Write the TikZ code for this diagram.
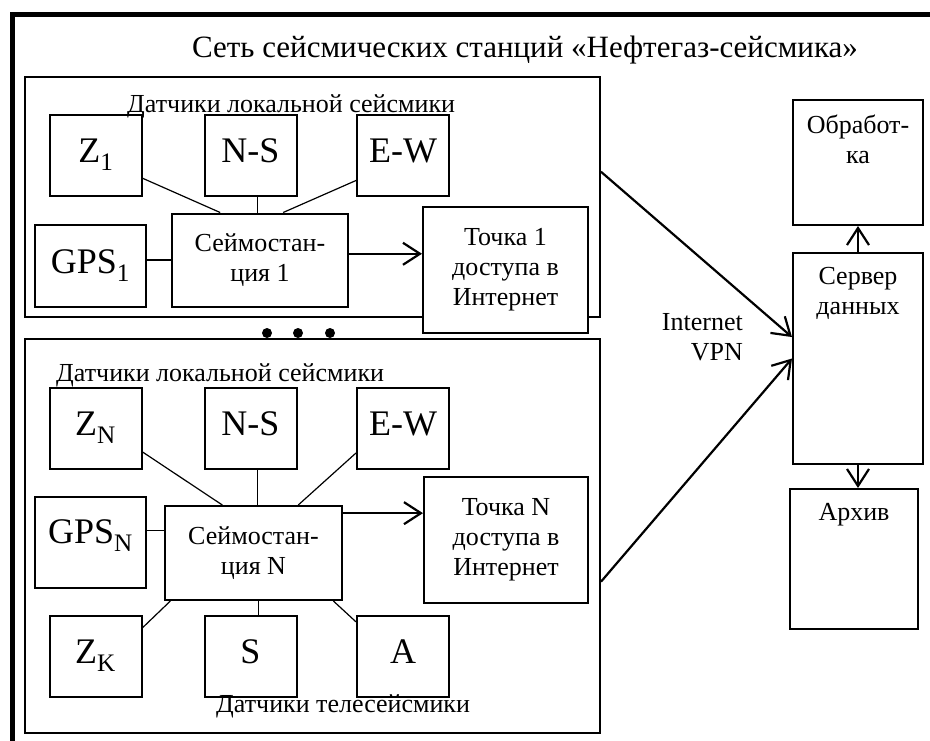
\documentclass[tikz,border=0pt]{standalone}
\usepackage{fontspec}
\setmainfont{Liberation Serif}
\usetikzlibrary{arrows.meta}

\begin{document}
\begin{tikzpicture}[x=1pt,y=-1pt,
  every node/.style={font=\fontsize{26}{30}\selectfont},
  sens/.style={draw,line width=2pt,minimum width=92pt,minimum height=81pt,inner sep=0pt,
    font=\fontsize{36}{42}\selectfont,text depth=9pt},
  seis/.style={draw,line width=2pt,minimum width=176pt,minimum height=93pt,align=center,inner sep=0pt},
  acc/.style={draw,fill=white,line width=2pt,minimum width=165pt,minimum height=126pt,align=center,inner sep=0pt},
  grp/.style={draw,line width=2pt,minimum width=575pt,inner sep=0pt},
  rbox/.style={draw,line width=2pt,minimum width=130pt,inner sep=0pt},
  lab/.style={anchor=north,align=center,yshift=-12pt},
  txt/.style={inner sep=0pt},
  wire/.style={line width=1.2pt},
  arr/.style={line width=2.2pt,-{Straight Barb[length=17pt,width=22pt]}}]
  \useasboundingbox (0,0) rectangle (930,740);
  \begin{scope}
    \clip (0,0) rectangle (930,740);
    \draw[line width=5pt] (12,14) rectangle (960,770);
  \end{scope}

  \node[anchor=base,font=\fontsize{31}{36}\selectfont] (title) at (525,57) {Сеть сейсмических станций «Нефтегаз-сейсмика»};

  \node[grp,minimum height=240pt] (st1) at (312.5,197) {};
  \node[grp,minimum height=394pt] (stN) at (312.5,536) {};
  \foreach \x in {267,298,330}
    \fill (\x,333) circle (5pt);

  \node[txt,anchor=base west] (loc1) at (127,112) {Датчики локальной сейсмики};
  \node[sens] (z1) at (96,155.5) {Z\textsubscript{1}};
  \node[sens] (ns1) at (250.5,155.5) {N-S};
  \node[sens] (ew1) at (403,155.5) {E-W};
  \node[sens,minimum width=111pt,minimum height=82pt] (gps1) at (90.5,266) {GPS\textsubscript{1}};
  \node[seis] (seis1) at (260,260) {Сеймостан-\\ция 1};
  \node[acc] (acc1) at (505.5,270) {Точка 1\\доступа в\\Интернет};

  \node[txt,anchor=base west] (locN) at (56,381) {Датчики локальной сейсмики};
  \node[sens] (zN) at (95.5,428) {Z\textsubscript{N}};
  \node[sens] (nsN) at (250.5,428) {N-S};
  \node[sens] (ewN) at (403,428) {E-W};
  \node[sens,minimum width=111pt,minimum height=91pt,text depth=22pt] (gpsN) at (90.5,542.5) {GPS\textsubscript{N}};
  \node[seis,minimum width=177pt,minimum height=94pt] (seisN) at (253.5,553) {Сеймостан-\\ция N};
  \node[acc,minimum width=164pt] (accN) at (506,540) {Точка N\\доступа в\\Интернет};
  \node[sens] (zK) at (95.5,656) {Z\textsubscript{K}};
  \node[sens] (sK) at (250.5,656) {S};
  \node[sens] (aK) at (403,656) {A};
  \node[txt,anchor=base west] (tele) at (216,712) {Датчики телесейсмики};

  \node[rbox,minimum height=125pt,label={[lab]north:Обработ-\\ка}] (obr) at (858,162.5) {};
  \node[rbox,minimum height=211pt,label={[lab]north:Сервер\\данных}] (srv) at (858,358.5) {};
  \node[rbox,minimum width=128pt,minimum height=140pt,label={[lab]north:Архив}] (arch) at (854,559) {};
  \node[txt,anchor=north east,align=right] (vpn) at (743,313) {Internet\\VPN};

  \foreach \from/\to in {z1.-26/seis1.130,ew1.208/seis1.64,zN.-27/seisN.123,ewN.208/seisN.47,zK.31/seisN.210,aK.144/seisN.-31}
    \draw[wire] (\from) -- (\to);
  \draw[wire] (ns1.-80) -- (ns1.-80 |- seis1.north);
  \draw[wire] (nsN.-80) -- (nsN.-80 |- seisN.north);
  \draw[wire] (sK.79) -- (sK.79 |- seisN.south);
  \draw[wire] (seis1.west) -- (seis1.west -| gps1.east);
  \draw[wire] (gpsN.12) -- (gpsN.12 -| seisN.west);

  \draw[arr] (seis1.4.5) -- (seis1.4.5 -| acc1.west);
  \draw[arr] (seisN.24) -- (seisN.24 -| accN.west);
  \draw[arr] (st1.5.6) -- (srv.162);
  \draw[arr] (stN.-9.5) -- (srv.west);
  \draw[arr] (srv.north) -- (obr.south);
  \draw[arr] (srv.south) -- (srv.south |- arch.north);
\end{tikzpicture}
\end{document}
